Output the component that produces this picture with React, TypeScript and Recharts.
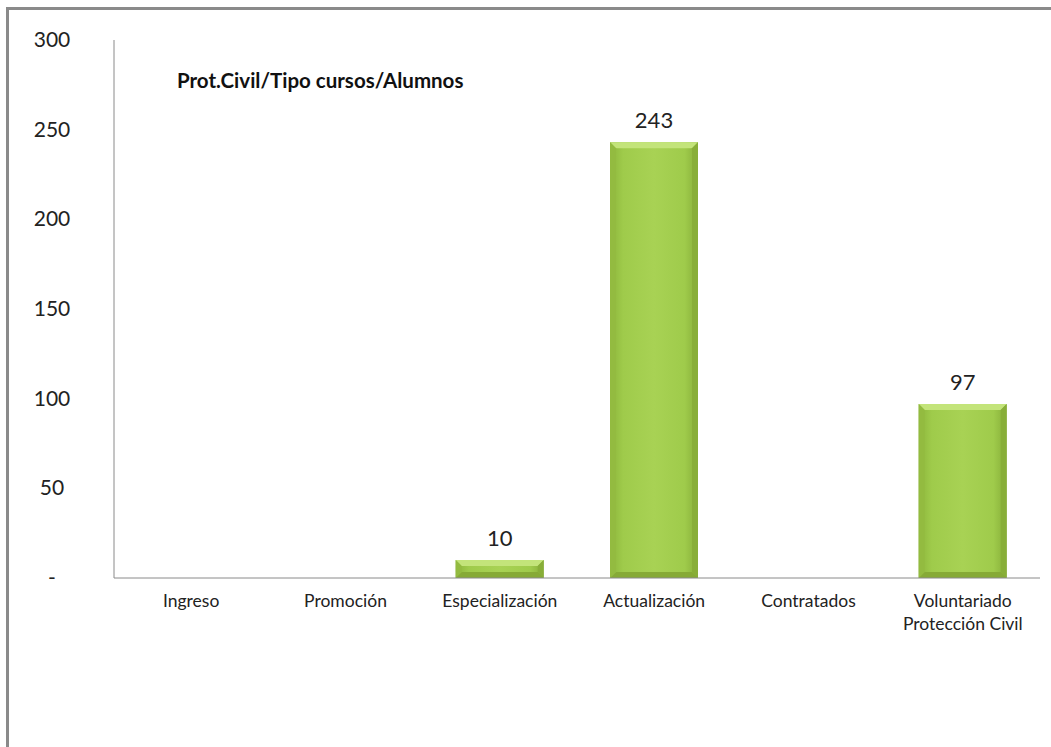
import React from "react";
import { BarChart, Bar, XAxis, YAxis, LabelList } from "recharts";

const categories = [
  "Ingreso",
  "Promoción",
  "Especialización",
  "Actualización",
  "Contratados",
  "Voluntariado\nProtección Civil",
];
const alumnos = [0, 0, 10, 243, 0, 97];
const yTicks = [0, 50, 100, 150, 200, 250, 300];

const data = categories.map((name, i) => ({ name, value: alumnos[i] }));

const FONT = "Lato, 'Noto Sans', sans-serif";

const BevelBar = (props: any) => {
  const { x, y, width, height } = props;
  if (!height || height <= 0) return null;
  const b = Math.min(6, height / 2);
  return (
    <g>
      <rect x={x} y={y} width={width} height={height} fill="url(#barGrad)" />
      <polygon
        points={`${x},${y} ${x + width},${y} ${x + width - b},${y + b} ${x + b},${y + b}`}
        fill="#c3e47a"
      />
      <polygon
        points={`${x},${y + height} ${x + width},${y + height} ${x + width - b},${y + height - b} ${x + b},${y + height - b}`}
        fill="#86aa36"
      />
      <polygon
        points={`${x},${y} ${x + b},${y + b} ${x + b},${y + height - b} ${x},${y + height}`}
        fill="#93bb40"
      />
      <polygon
        points={`${x + width},${y} ${x + width - b},${y + b} ${x + width - b},${y + height - b} ${x + width},${y + height}`}
        fill="#88ae38"
      />
    </g>
  );
};

const YTick = (props: any) => {
  const { x, y, payload } = props;
  const label = payload.value === 0 ? "-" : String(payload.value);
  return (
    <text x={x - 54} y={y} dy={7} textAnchor="middle" fontSize={21} fill="#222" fontFamily={FONT}>
      {label}
    </text>
  );
};

const XTick = (props: any) => {
  const { x, y, payload } = props;
  const lines = String(payload.value).split("\n");
  return (
    <text x={x} y={y} textAnchor="middle" fontSize={17.5} fill="#222" fontFamily={FONT}>
      {lines.map((l, i) => (
        <tspan key={i} x={x} dy={i === 0 ? 21 : 23}>
          {l}
        </tspan>
      ))}
    </text>
  );
};

export default function App() {
  return (
    <div style={{ position: "absolute", left: 0, top: 0, width: 1051, height: 747, background: "#fff" }}>
      <style>{"body{margin:0}"}</style>
      <div
        style={{
          position: "absolute",
          left: 6,
          top: 7,
          width: 1060,
          height: 760,
          borderTop: "3px solid #8a8a8a",
          borderLeft: "3px solid #8a8a8a",
        }}
      />
      <div
        style={{
          position: "absolute",
          left: 177,
          top: 67,
          lineHeight: "26px",
          fontFamily: FONT,
          fontWeight: 700,
          fontSize: 20.5,
          color: "#111",
        }}
      >
        Prot.Civil/Tipo cursos/Alumnos
      </div>
      <div style={{ position: "absolute", left: 0, top: 0 }}>
        <BarChart
          width={1051}
          height={747}
          data={data}
          margin={{ top: 40, right: 11, bottom: 109, left: 0 }}
        >
          <defs>
            <linearGradient id="barGrad" x1="0" y1="0" x2="1" y2="0">
              <stop offset="0%" stopColor="#8cb53b" />
              <stop offset="15%" stopColor="#9fcb4b" />
              <stop offset="50%" stopColor="#a8d254" />
              <stop offset="85%" stopColor="#9fcb4b" />
              <stop offset="100%" stopColor="#86ad38" />
            </linearGradient>
          </defs>
          <XAxis
            dataKey="name"
            height={60}
            interval={0}
            tickLine={false}
            axisLine={{ stroke: "#8a8a8a" }}
            tick={<XTick />}
          />
          <YAxis
            width={114}
            domain={[0, 300]}
            ticks={yTicks}
            interval={0}
            tickLine={false}
            axisLine={{ stroke: "#8a8a8a" }}
            tick={<YTick />}
          />
          <Bar dataKey="value" barSize={88} shape={<BevelBar />} isAnimationActive={false}>
            <LabelList
              dataKey="value"
              position="top"
              offset={14}
              formatter={(v: any) => (v > 0 ? v : "")}
              style={{ fontSize: 22, fill: "#222", fontFamily: FONT }}
            />
          </Bar>
        </BarChart>
      </div>
    </div>
  );
}
